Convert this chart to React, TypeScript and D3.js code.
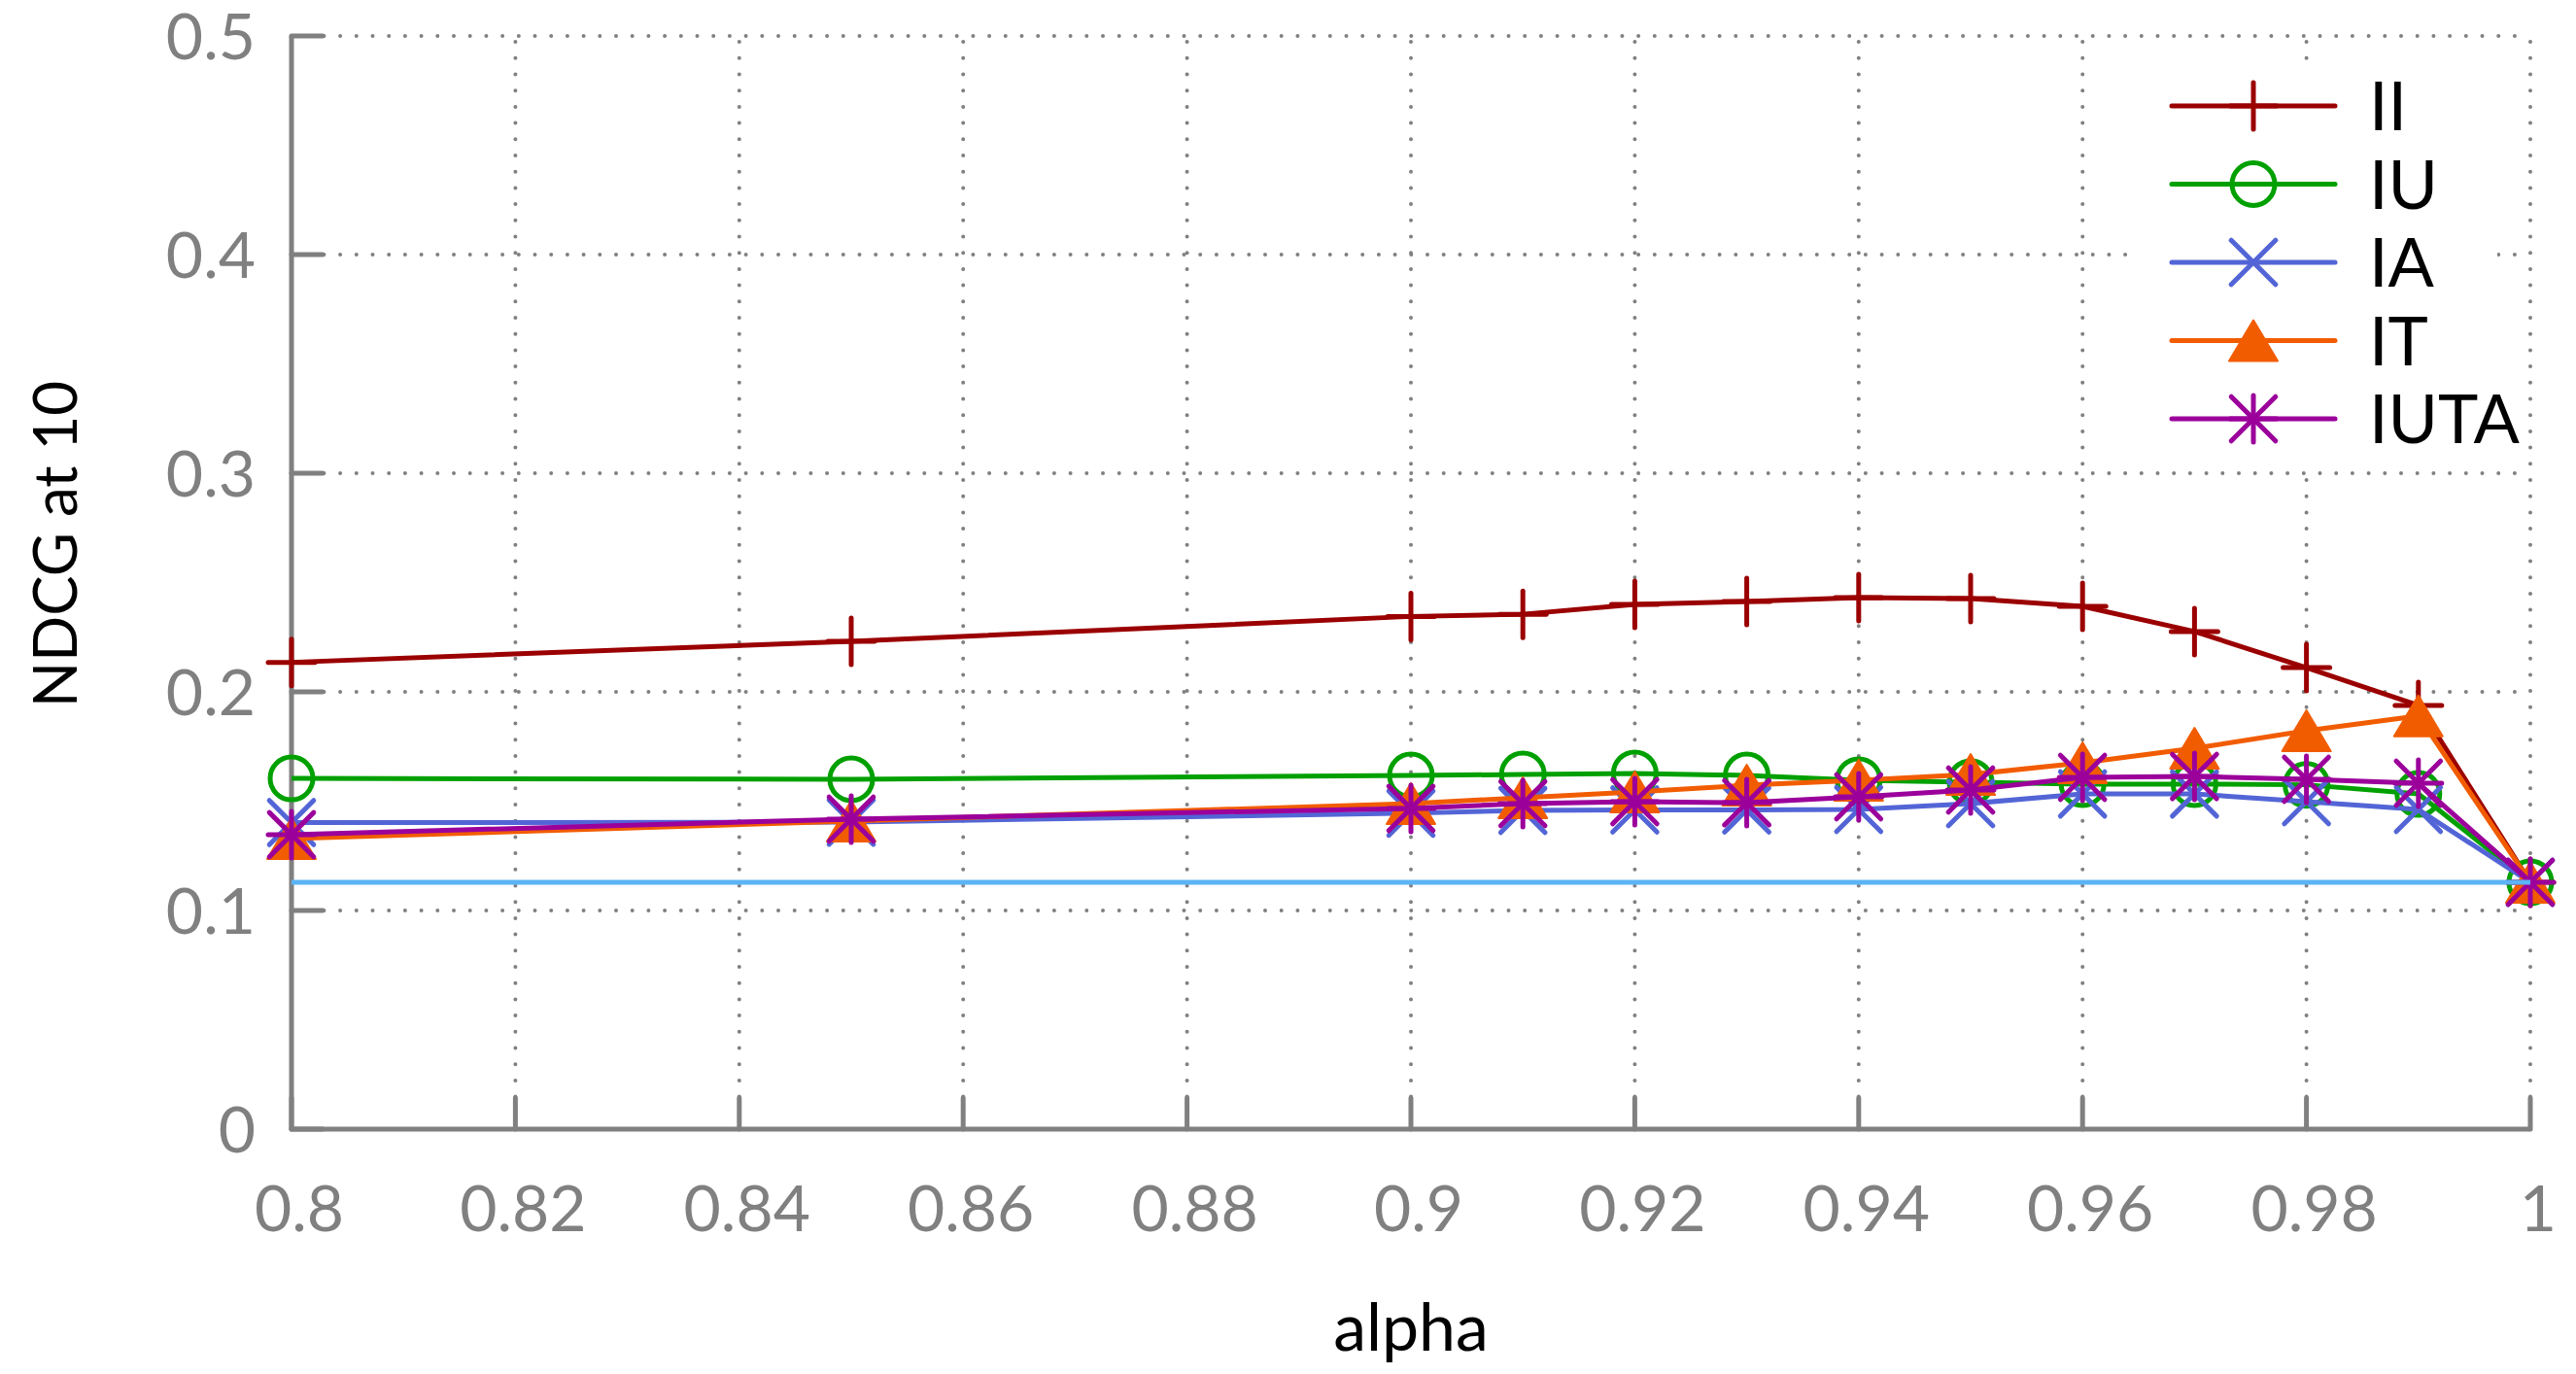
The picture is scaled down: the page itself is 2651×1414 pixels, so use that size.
import React, { useEffect, useRef } from 'react';
import * as d3 from 'd3';

// alpha values on the x axis
const alpha = [0.8, 0.85, 0.9, 0.91, 0.92, 0.93, 0.94, 0.95, 0.96, 0.97, 0.98, 0.99, 1.0];

// NDCG at 10 for each method
const II = [0.2135, 0.2231, 0.2345, 0.2355, 0.240, 0.2413, 0.2431, 0.2427, 0.2391, 0.2276, 0.2111, 0.1938, 0.1129];
const IU = [0.1604, 0.16, 0.1618, 0.1622, 0.1627, 0.1618, 0.1596, 0.1587, 0.1578, 0.1578, 0.1575, 0.1533, 0.1129];
const IA = [0.1402, 0.1404, 0.1445, 0.1458, 0.146, 0.146, 0.1462, 0.1489, 0.1533, 0.1533, 0.1498, 0.1462, 0.1129];
const IT = [0.1329, 0.1409, 0.1489, 0.1516, 0.1542, 0.1573, 0.1596, 0.1622, 0.1676, 0.1742, 0.1822, 0.189, 0.1129];
const IUTA = [0.1347, 0.1418, 0.1467, 0.1489, 0.1498, 0.1493, 0.152, 0.1551, 0.1609, 0.1613, 0.16, 0.1582, 0.1129];
const baseline = [0.1129, 0.1129];
const baselineX = [0.8, 1.0];

const xTicks = [0.8, 0.82, 0.84, 0.86, 0.88, 0.9, 0.92, 0.94, 0.96, 0.98, 1];
const yTicks = [0, 0.1, 0.2, 0.3, 0.4, 0.5];

const seriesNames = ['II', 'IU', 'IA', 'IT', 'IUTA'];
const seriesValues = [II, IU, IA, IT, IUTA];
const colors = ['#9b0000', '#00a000', '#5365d6', '#f25c00', '#9b009b'];
const markers = ['plus', 'circle', 'cross', 'triangle', 'star'];

const FONT = 'Lato, "Open Sans", sans-serif';
const GRAY = '#808080';

function drawMarker(g: any, type: string, x: number, y: number, color: string) {
  const s = 24;
  const sw = 5;
  if (type === 'plus' || type === 'star') {
    g.append('line').attr('x1', x - s).attr('x2', x + s).attr('y1', y).attr('y2', y)
      .attr('stroke', color).attr('stroke-width', sw).attr('stroke-linecap', 'round');
    g.append('line').attr('x1', x).attr('x2', x).attr('y1', y - s).attr('y2', y + s)
      .attr('stroke', color).attr('stroke-width', sw).attr('stroke-linecap', 'round');
  }
  if (type === 'cross' || type === 'star') {
    const d = s * 0.95;
    g.append('line').attr('x1', x - d).attr('x2', x + d).attr('y1', y - d).attr('y2', y + d)
      .attr('stroke', color).attr('stroke-width', sw).attr('stroke-linecap', 'round');
    g.append('line').attr('x1', x - d).attr('x2', x + d).attr('y1', y + d).attr('y2', y - d)
      .attr('stroke', color).attr('stroke-width', sw).attr('stroke-linecap', 'round');
  }
  if (type === 'circle') {
    g.append('circle').attr('cx', x).attr('cy', y).attr('r', 22)
      .attr('fill', 'none').attr('stroke', color).attr('stroke-width', sw);
  }
  if (type === 'triangle') {
    const h = 42;
    const w = 50;
    g.append('path')
      .attr('d', `M${x},${y - h / 2}L${x + w / 2},${y + h / 2}L${x - w / 2},${y + h / 2}Z`)
      .attr('fill', color).attr('stroke', color).attr('stroke-width', 2).attr('stroke-linejoin', 'round');
  }
}

function App() {
  const ref = useRef<SVGSVGElement | null>(null);
  const width = 2651;
  const height = 1414;
  const margin = { top: 37, right: 47, bottom: 252, left: 300 };

  useEffect(() => {
    const svg = d3.select(ref.current);
    svg.selectAll('*').remove();

    const x = d3.scaleLinear().domain([0.8, 1]).range([margin.left, width - margin.right]);
    const y = d3.scaleLinear().domain([0, 0.5]).range([height - margin.bottom, margin.top]);

    const x0 = x.range()[0];
    const x1 = x.range()[1];
    const y0 = y.range()[0];
    const y1 = y.range()[1];

    // Dotted grid
    const grid = svg.append('g');
    xTicks.forEach(t => {
      grid.append('line').attr('x1', x(t)).attr('x2', x(t)).attr('y1', y0).attr('y2', y1)
        .attr('stroke', GRAY).attr('stroke-width', 4).attr('stroke-linecap', 'round')
        .attr('stroke-dasharray', '0 16.7');
    });
    yTicks.forEach(t => {
      grid.append('line').attr('x1', x0).attr('x2', x1).attr('y1', y(t)).attr('y2', y(t))
        .attr('stroke', GRAY).attr('stroke-width', 4).attr('stroke-linecap', 'round')
        .attr('stroke-dasharray', '0 16.7');
    });

    // Axes (left and bottom) with inward ticks
    const axes = svg.append('g');
    axes.append('path')
      .attr('d', `M${x0},${y1}V${y0}H${x1}`)
      .attr('fill', 'none').attr('stroke', GRAY).attr('stroke-width', 5).attr('stroke-linejoin', 'round');
    xTicks.forEach(t => {
      axes.append('line').attr('x1', x(t)).attr('x2', x(t)).attr('y1', y0).attr('y2', y0 - 32)
        .attr('stroke', GRAY).attr('stroke-width', 5).attr('stroke-linecap', 'round');
      axes.append('text').attr('x', x(t) + 8).attr('y', y0 + 105)
        .attr('text-anchor', 'middle').attr('fill', GRAY)
        .style('font-family', FONT).style('font-size', '66px')
        .text(d3.format('~g')(t));
    });
    yTicks.forEach(t => {
      axes.append('line').attr('x1', x0).attr('x2', x0 + 32).attr('y1', y(t)).attr('y2', y(t))
        .attr('stroke', GRAY).attr('stroke-width', 5).attr('stroke-linecap', 'round');
      axes.append('text').attr('x', x0 - 37).attr('y', y(t) + 24)
        .attr('text-anchor', 'end').attr('fill', GRAY)
        .style('font-family', FONT).style('font-size', '66px')
        .text(d3.format('~g')(t));
    });

    // Axis titles
    svg.append('text').attr('x', (x0 + x1) / 2).attr('y', 1390)
      .attr('text-anchor', 'middle').attr('fill', '#000')
      .style('font-family', FONT).style('font-size', '68px')
      .text('alpha');
    svg.append('text')
      .attr('transform', `translate(79, 560) rotate(-90)`)
      .attr('text-anchor', 'middle').attr('fill', '#000')
      .style('font-family', FONT).style('font-size', '62px')
      .text('NDCG at 10');

    const line = d3.line<number>()
      .x((_, i) => x(alpha[i]))
      .y(d => y(d));

    // Series lines and markers
    seriesValues.forEach((vals, k) => {
      const g = svg.append('g');
      g.append('path').attr('d', line(vals))
        .attr('fill', 'none').attr('stroke', colors[k]).attr('stroke-width', 5)
        .attr('stroke-linejoin', 'round');
      vals.forEach((v, i) => drawMarker(g, markers[k], x(alpha[i]), y(v), colors[k]));
    });

    // Baseline
    const baseLine = d3.line<number>()
      .x((_, i) => x(baselineX[i]))
      .y(d => y(d));
    svg.append('path').attr('d', baseLine(baseline))
      .attr('fill', 'none').attr('stroke', '#5ab4f5').attr('stroke-width', 5);

    // Legend
    const legend = svg.append('g');
    legend.append('rect').attr('x', 2190).attr('y', 72).attr('width', 380).attr('height', 408)
      .attr('fill', '#fff');
    seriesNames.forEach((name, k) => {
      const ly = 109 + k * 80.5;
      legend.append('line').attr('x1', 2235).attr('x2', 2403).attr('y1', ly).attr('y2', ly)
        .attr('stroke', colors[k]).attr('stroke-width', 5).attr('stroke-linecap', 'round');
      drawMarker(legend, markers[k], 2319, ly, colors[k]);
      legend.append('text').attr('x', 2438).attr('y', ly + 25)
        .attr('fill', '#000')
        .style('font-family', FONT).style('font-size', '70px')
        .text(name);
    });
  }, []);

  return (
    <svg
      ref={ref}
      width={width}
      height={height}
      style={{ position: 'absolute', left: 0, top: 0, background: '#fff' }}
    />
  );
}

export default App;
